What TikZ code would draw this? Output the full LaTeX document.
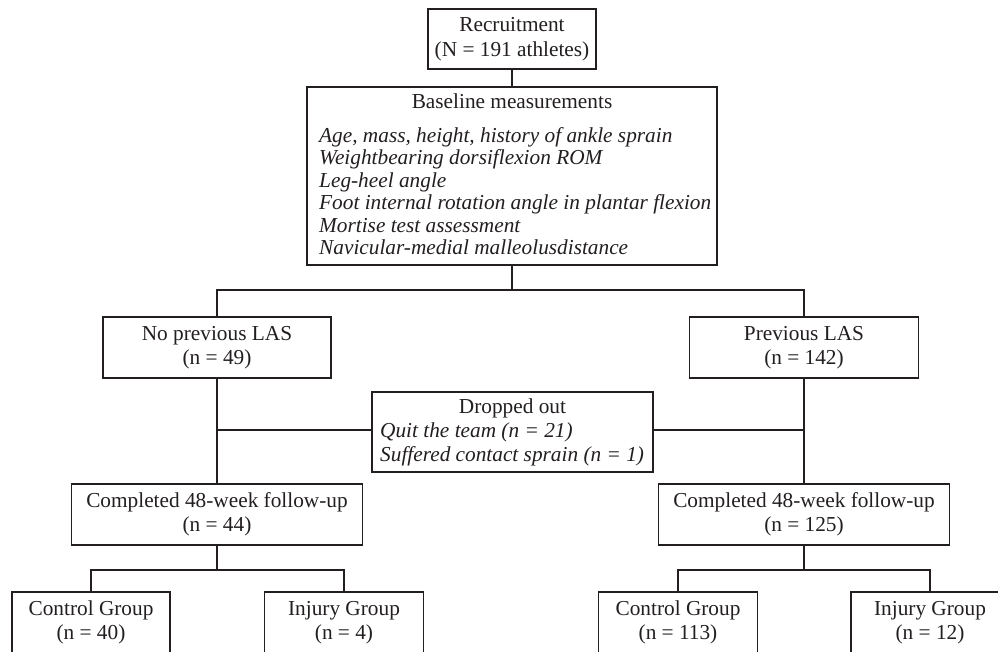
\documentclass[tikz,border=0pt]{standalone}
\usepackage{fontspec}
\setmainfont{Liberation Serif}
\definecolor{ink}{HTML}{231F20}
\begin{document}
\begin{tikzpicture}[x=1pt,y=-1pt,
  every node/.style={text=ink, font=\fontsize{21.3}{24.5}\selectfont},
  box/.style={draw=ink, line width=1.2pt, inner sep=0pt, align=center, minimum height=61pt},
  txt/.style={inner sep=0pt, anchor=base west, font=\fontsize{21.3}{24.5}\selectfont\itshape},
  conn/.style={draw=ink, line width=1.2pt}]
\useasboundingbox (0,0) rectangle (998,651);
\clip (0,0) rectangle (998,651);
\fill[white] (0,0) rectangle (998,651);

% boxes
\node[box, minimum width=168pt, minimum height=60pt] (rec) at (512,39) {Recruitment\\(N = 191 athletes)};
\node[box, minimum width=410pt, minimum height=178pt] (base) at (512,176) {};
\node[inner sep=0pt, anchor=base] (bt) at (512,108) {Baseline measurements};
\node[txt] (b1) at (319,142) {Age, mass, height, history of ankle sprain};
\node[txt] (b2) at (319,164.5) {Weightbearing dorsiflexion ROM};
\node[txt] (b3) at (319,187) {Leg-heel angle};
\node[txt] (b4) at (319,209.5) {Foot internal rotation angle in plantar flexion};
\node[txt] (b5) at (319,232) {Mortise test assessment};
\node[txt] (b6) at (319,254.5) {Navicular-medial malleolusdistance};

\node[box, minimum width=228pt] (nprev) at (217,347.5) {No previous LAS\\(n = 49)};
\node[box, minimum width=229pt] (prev) at (804,347.5) {Previous LAS\\(n = 142)};

\node[box, minimum width=281pt, minimum height=80pt] (drop) at (512.5,432) {};
\node[inner sep=0pt, anchor=base] (dt) at (512.5,413) {Dropped out};
\node[txt] (d1) at (380,437) {Quit the team (n = 21)};
\node[txt] (d2) at (380,461) {Suffered contact sprain (n = 1)};

\node[box, minimum width=291pt] (comp1) at (217,514.5) {Completed 48-week follow-up\\(n = 44)};
\node[box, minimum width=291pt] (comp2) at (804,514.5) {Completed 48-week follow-up\\(n = 125)};

\node[box, minimum width=158pt] (ctrl1) at (91,622.5) {Control Group\\(n = 40)};
\node[box, minimum width=159pt] (inj1) at (344,622.5) {Injury Group\\(n = 4)};
\node[box, minimum width=159pt] (ctrl2) at (678,622.5) {Control Group\\(n = 113)};
\node[box, minimum width=158pt] (inj2) at (930,622.5) {Injury Group\\(n = 12)};

% split points
\coordinate (s0) at (512,290);
\coordinate (s1) at (217,570);
\coordinate (s2) at (804,570);

% connectors
\draw[conn] (rec.south) -- (base.north);
\draw[conn] (base.south) -- (s0);
\draw[conn] (nprev.north) |- (prev.north |- s0) -- (prev.north);
\draw[conn] (nprev.south) -- (comp1.north);
\draw[conn] (prev.south) -- (comp2.north);
\draw[conn] (drop.west) ++(0,-2) -- (nprev.south |- 0,430);
\draw[conn] (drop.east) ++(0,-2) -- (prev.south |- 0,430);
\draw[conn] (comp1.south) -- (s1);
\draw[conn] (ctrl1.north) |- (inj1.north |- s1) -- (inj1.north);
\draw[conn] (comp2.south) -- (s2);
\draw[conn] (ctrl2.north) |- (inj2.north |- s2) -- (inj2.north);
\end{tikzpicture}
\end{document}
